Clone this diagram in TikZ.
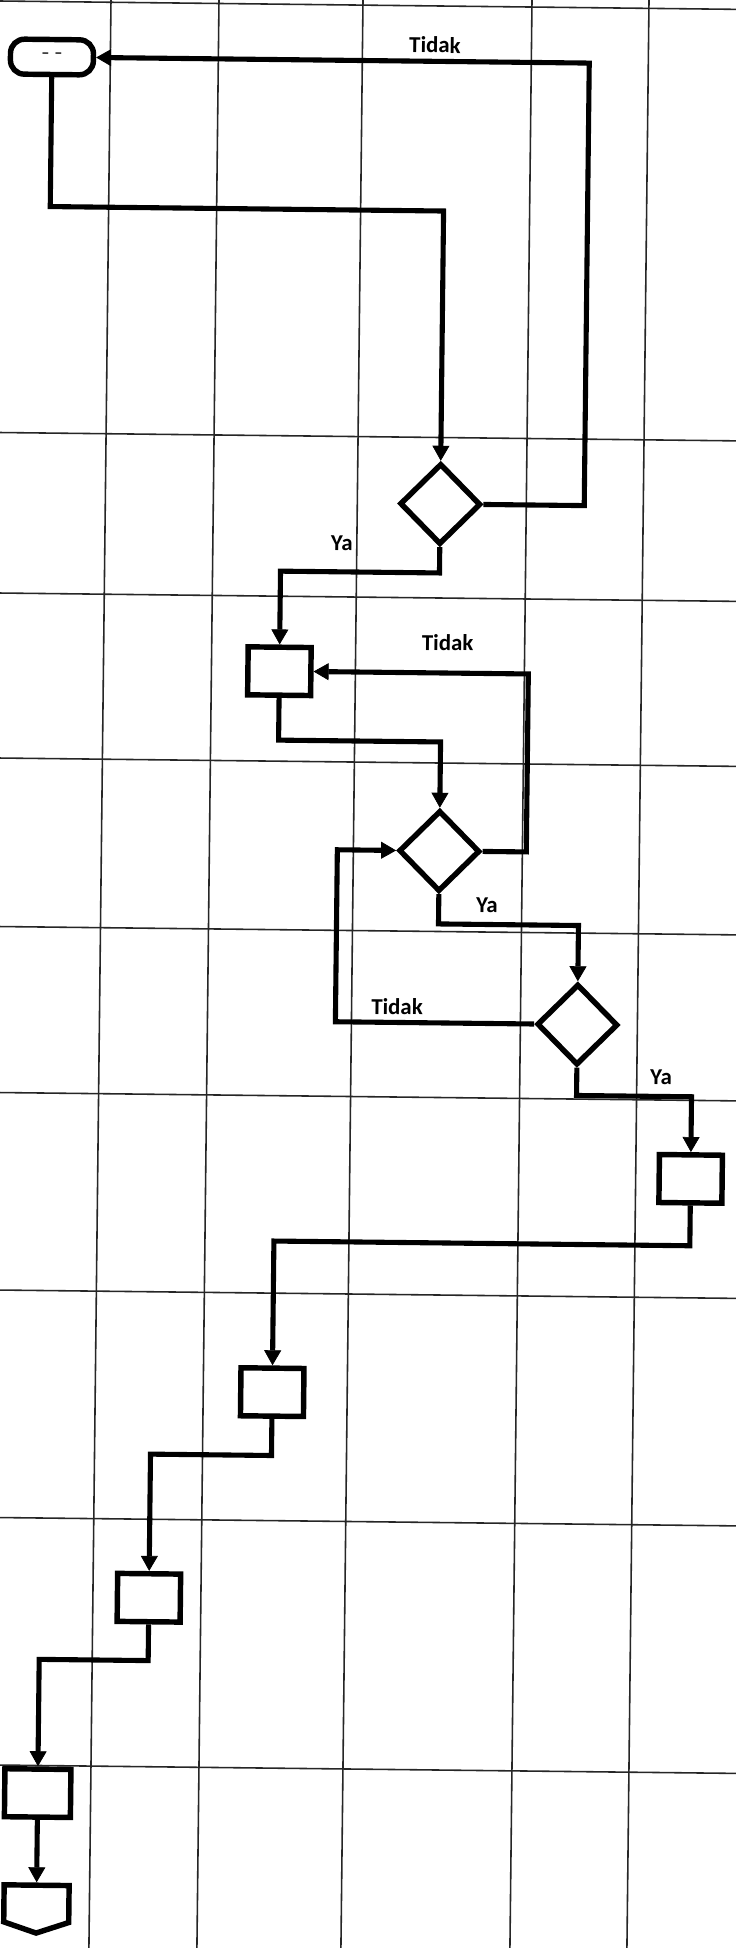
\documentclass[tikz,border=0pt]{standalone}
\usepackage{fontspec}
\setmainfont{Carlito}
\usepackage{tikz}
\usetikzlibrary{arrows.meta,shapes.geometric,shapes.symbols}
\tikzset{
  gridline/.style={line width=0.9pt,black!85},
  flowline/.style={line width=2.9pt,black},
  flowarrow/.style={flowline,-{Triangle[length=0.3cm,width=0.34cm,line width=0.4pt]}},
  procbox/.style={draw,line width=3.1pt,fill=white,minimum width=1.26cm,
                  minimum height=0.96cm,inner sep=0pt},
  decision/.style={draw,diamond,line width=3.1pt,fill=white,minimum width=1.62cm,
                   minimum height=1.62cm,inner sep=0pt},
  termbox/.style={draw,rounded corners=0.28cm,line width=3.1pt,fill=white,
                  minimum width=1.66cm,minimum height=0.70cm,inner sep=0pt},
  offpage/.style={draw,signal,signal to=south,signal pointer angle=143,
                  line width=3.1pt,fill=white,minimum width=1.3cm,
                  minimum height=0.74cm,inner sep=0pt},
  lbl/.style={font=\bfseries\fontsize{13}{15}\selectfont}}

\begin{document}
\begin{tikzpicture}[x=0.02cm,y=0.02cm]
\useasboundingbox (0,0) rectangle (736,-1948);
\fill[white] (0,0) rectangle (736,-1948);
\clip (0,0) rectangle (736,-1948);
\begin{scope}[rotate=-0.65,transform shape]
\foreach \gx in {111,219,363,532,649}{\draw[gridline] (\gx,40) -- (\gx,-2000);}
\foreach \gy in {1,432.5,593,758,926.5,1092.5,1290,1517.5,1765}{%
  \draw[gridline] (-40,-\gy) -- (780,-\gy);}

\node[termbox] (mulai) at (52.6,-56.4) {\fontsize{14}{16}\selectfont\color{black!75}- -};
\node[decision] (cek1) at (446,-499) {};
\node[procbox] (proses1) at (287,-668) {};
\node[decision] (cek2) at (449,-846) {};
\node[decision] (cek3) at (589,-1018) {};
\node[procbox] (proses2) at (704,-1171) {};
\node[procbox] (proses3) at (288,-1389) {};
\node[procbox] (proses4) at (167,-1596) {};
\node[procbox,minimum width=1.32cm] (proses5) at (58,-1792.6) {};
\node[offpage,anchor=north] (lanjut) at (58,-1882) {};

\coordinate (k1) at (52.6,-206);
\coordinate (k2) at (590,-56.4);
\coordinate (k3) at (287,-568);
\coordinate (k4) at (449,-737);
\coordinate (k5) at (536,-668);
\coordinate (k6) at (589,-919);
\coordinate (k7) at (347,-1018);
\coordinate (k8) at (704,-1089);
\coordinate (k9) at (288,-1238);
\coordinate (k10) at (167,-1452.5);
\coordinate (k11) at (58,-1659);

\draw[flowarrow] (mulai.south) -- (k1) -| (cek1.north);
\draw[flowarrow] (cek1.east) -| (k2) -- (mulai.east);
\draw[flowarrow] (cek1.south) |- (k3) -- (proses1.north);
\draw[flowarrow] (proses1.south) |- (k4) -- (cek2.north);
\draw[flowarrow] (cek2.east) -| (k5) -- (proses1.east);
\draw[flowarrow] (cek2.south) |- (k6) -- (cek3.north);
\draw[flowarrow] (cek3.west) -- (k7) |- (cek2.west);
\draw[flowarrow] (cek3.south) |- (k8) -- (proses2.north);
\draw[flowarrow] (proses2.south) |- (k9) -- (proses3.north);
\draw[flowarrow] (proses3.south) |- (k10) -- (proses4.north);
\draw[flowarrow] (proses4.south) |- (k11) -- (proses5.north);
\draw[flowarrow] (proses5.south) -- (lanjut.north);

\node[lbl] (tidak1) at (435.5,-40) {Tidak};
\node[lbl] (ya1) at (348,-539) {Ya};
\node[lbl] (tidak2) at (455,-637.4) {Tidak};
\node[lbl] (ya2) at (497.3,-900) {Ya};
\node[lbl] (tidak3) at (408.5,-1002) {Tidak};
\node[lbl] (ya3) at (673.3,-1070) {Ya};
\end{scope}
\end{tikzpicture}
\end{document}
